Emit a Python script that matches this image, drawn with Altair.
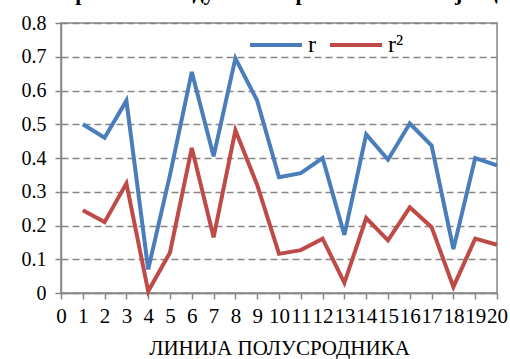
import altair as alt
import pandas as pd

lines = list(range(1, 21))
r_vals = [0.50, 0.46, 0.57, 0.07, 0.35, 0.655, 0.405, 0.695, 0.57, 0.343,
          0.355, 0.40, 0.172, 0.47, 0.395, 0.502, 0.437, 0.13, 0.40, 0.378]
r2_vals = [0.245, 0.21, 0.325, 0.005, 0.12, 0.43, 0.165, 0.482, 0.32, 0.116,
           0.127, 0.161, 0.03, 0.222, 0.156, 0.254, 0.195, 0.018, 0.161, 0.143]
series_names = ["r", "r²"]
x_ticks = list(range(0, 21))
y_ticks = [0, 0.1, 0.2, 0.3, 0.4, 0.5, 0.6, 0.7, 0.8]
title_text = "за променљиве дужина корена и маса клијавца"
x_title = "ЛИНИЈА ПОЛУСРОДНИКА"

rows = []
for i, l in enumerate(lines):
    rows.append({"line": l, "value": r_vals[i], "series": series_names[0]})
    rows.append({"line": l, "value": r2_vals[i], "series": series_names[1]})
df = pd.DataFrame(rows)

FONT = "Liberation Serif"

base = alt.Chart(df).mark_line(strokeWidth=4).encode(
    x=alt.X("line:Q", scale=alt.Scale(domain=[0, 20], nice=False),
            axis=alt.Axis(values=x_ticks, title=x_title, format="d", grid=False,
                          labelFontSize=21, labelColor="black",
                          titleFontSize=21, titleFontWeight="normal",
                          titleColor="black", titlePadding=11,
                          tickColor="#868686", domainColor="#868686", tickSize=6,
                          tickWidth=1.5, domainWidth=1.5, labelPadding=6,
                          labelOverlap=False, labelFlush=False)),
    y=alt.Y("value:Q", scale=alt.Scale(domain=[0, 0.8], nice=False),
            axis=alt.Axis(values=y_ticks, title=None, format="~g", labelFontSize=20,
                          labelColor="black", tickColor="#868686",
                          domainColor="#868686", tickSize=6, tickWidth=1.5,
                          domainWidth=1.5, labelPadding=9,
                          gridColor="#868686", gridDash=[7, 4], gridWidth=1.5)),
    color=alt.Color("series:N", scale=alt.Scale(domain=series_names, range=["#4A7EBB", "#BE4B48"]),
                    sort=series_names,
                    legend=alt.Legend(title=None, orient="none", legendX=187, legendY=-6,
                                      direction="horizontal", symbolType="stroke",
                                      symbolSize=2704, symbolStrokeWidth=4,
                                      labelFontSize=24, labelColor="black",
                                      columnPadding=6, labelOffset=4)),
)

title = alt.Chart(pd.DataFrame({"t": [title_text]})).mark_text(
    fontSize=22, fontWeight="bold", align="center", baseline="alphabetic",
    color="black"
).encode(x=alt.value(212), y=alt.value(-23), text="t:N")

chart = alt.layer(base, title).properties(
    width=436, height=270,
    padding={"left": 61, "top": 23, "right": 13, "bottom": 66},
    autosize=alt.AutoSizeParams(type="none"),
).configure(font=FONT).configure_axis(
    labelFont=FONT, titleFont=FONT
).configure_legend(labelFont=FONT).configure_text(font=FONT).configure_view(
    stroke="#868686", strokeWidth=1.5)

chart.save("out.html", embed_options={"renderer": "svg", "actions": False})
